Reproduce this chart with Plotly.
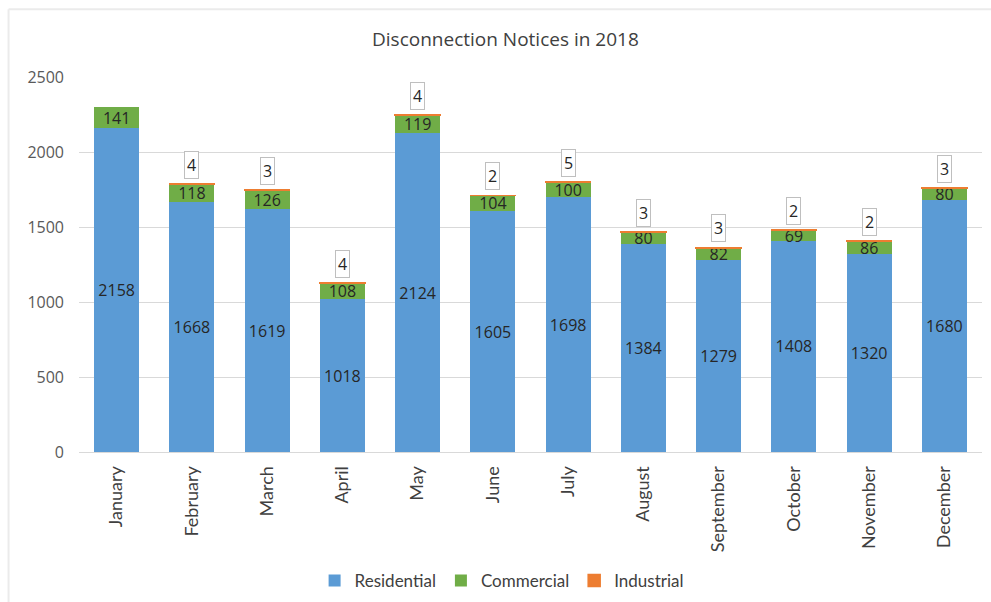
import plotly.graph_objects as go

months = ["January", "February", "March", "April", "May", "June", "July",
          "August", "September", "October", "November", "December"]
residential = [2158, 1668, 1619, 1018, 2124, 1605, 1698, 1384, 1279, 1408, 1320, 1680]
commercial = [141, 118, 126, 108, 119, 104, 100, 80, 82, 69, 86, 80]
industrial = [None, 4, 3, 4, 4, 2, 5, 3, 3, 2, 2, 3]
y_ticks = [0, 500, 1000, 1500, 2000, 2500]

BLUE = "#5b9bd5"
GREEN = "#70ad47"
ORANGE = "#ed7d31"
NUM_FONT = "Open Sans"
LBL_FONT = "Lato"

fig = go.Figure()
fig.add_trace(go.Bar(
    x=months, y=residential, name="Residential",
    marker=dict(color=BLUE, line=dict(width=0)),
    text=[str(v) for v in residential], textposition="inside",
    insidetextanchor="middle", constraintext="none",
    textfont=dict(family=NUM_FONT, size=16, color="#262626"),
    textangle=0,
))
fig.add_trace(go.Bar(
    x=months, y=commercial, name="Commercial",
    marker=dict(color=GREEN, line=dict(width=0)),
    text=[str(v) for v in commercial], textposition="inside",
    insidetextanchor="middle", constraintext="none",
    textfont=dict(family=NUM_FONT, size=16, color="#262626"),
    textangle=0,
))
fig.add_trace(go.Bar(
    x=months, y=industrial, name="Industrial",
    marker=dict(color=ORANGE, line=dict(width=1.5, color=ORANGE)),
))

# Callout labels for the industrial values
for m, r, c, i in zip(months, residential, commercial, industrial):
    if i is None:
        continue
    fig.add_annotation(
        x=m, y=r + c + i, xref="x", yref="y",
        text=str(i), showarrow=False, yanchor="bottom", yshift=5,
        font=dict(family=NUM_FONT, size=16, color="#262626"),
        bgcolor="white", bordercolor="#bfbfbf", borderwidth=1, borderpad=2,
    )

# faint chart border (top and left edges visible)
fig.add_shape(type="line", xref="paper", yref="paper",
              x0=-0.078, x1=1.02, y0=1.181, y1=1.181,
              line=dict(color="#ebebeb", width=2))
fig.add_shape(type="line", xref="paper", yref="paper",
              x0=-0.078, x1=-0.078, y0=-0.45, y1=1.181,
              line=dict(color="#ebebeb", width=2))

fig.update_layout(
    barmode="stack",
    bargap=0.4,
    width=991, height=602,
    margin=dict(l=79, r=9, t=77, b=150, autoexpand=False),
    paper_bgcolor="white", plot_bgcolor="white",
    title=dict(text="Disconnection Notices in 2018", x=0.51, xanchor="center",
               y=0.935, yanchor="middle",
               font=dict(family=NUM_FONT, size=19, color="#404040")),
    showlegend=True,
    legend=dict(orientation="h", x=0.468, xanchor="center", y=-0.344, yanchor="middle",
                font=dict(family=LBL_FONT, size=17, color="#404040"),
                traceorder="normal", itemwidth=30),
    xaxis=dict(tickangle=-90, tickfont=dict(family=LBL_FONT, size=18, color="#404040"),
               showline=True, linecolor="#d9d9d9", linewidth=1, ticks="",
               showgrid=False, ticklabelstandoff=6, automargin=False),
    yaxis=dict(range=[0, 2500], tickvals=y_ticks, ticktext=[str(v) for v in y_ticks],
               tickfont=dict(family=NUM_FONT, size=16, color="#595959"),
               showgrid=True, gridcolor="#d9d9d9", gridwidth=1,
               zeroline=False, ticks="", ticklabelstandoff=14, automargin=False),
)

fig.write_html("out.html")
